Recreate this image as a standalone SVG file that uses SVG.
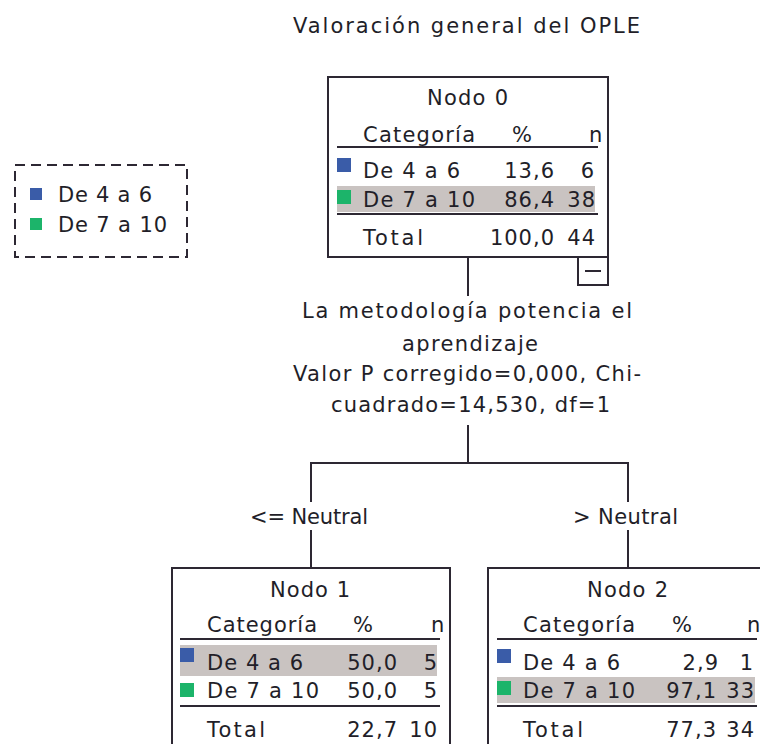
<svg xmlns="http://www.w3.org/2000/svg" width="760" height="744" viewBox="0 0 760 744">
  <style>
    text { font-family: "DejaVu Sans", "Liberation Sans", sans-serif; font-size: 21px; fill: #221e28; }
    .num { text-anchor: end; letter-spacing: 1px; }
    .box { fill: #ffffff; stroke: #2d2833; stroke-width: 2; }
    .rule { stroke: #2d2833; stroke-width: 2; }
    .conn line { stroke: #2d2833; stroke-width: 2; fill: none; }
    .hl { fill: #c9c3c1; }
    .c1 { fill: #3a5ca8; }
    .c2 { fill: #1cb46a; }
  </style>
  <rect width="760" height="744" fill="#ffffff"/>

  <!-- title -->
  <text x="293" y="33" textLength="347" lengthAdjust="spacing">Valoración general del OPLE</text>

  <!-- legend -->
  <g id="legend">
    <rect x="15" y="165" width="172" height="92" fill="none" stroke="#2d2833" stroke-width="2" stroke-dasharray="10 6"/>
    <rect class="c1" x="30" y="188" width="12" height="12"/>
    <text x="58" y="202" textLength="94" lengthAdjust="spacing">De 4 a 6</text>
    <rect class="c2" x="30" y="218" width="12" height="12"/>
    <text x="58" y="232" textLength="109" lengthAdjust="spacing">De 7 a 10</text>
  </g>

  <!-- connectors -->
  <g id="connectors" class="conn">
    <line x1="468" y1="257" x2="468" y2="296"/>
    <line x1="468" y1="425" x2="468" y2="463"/>
    <line x1="310" y1="463" x2="629" y2="463"/>
    <line x1="311" y1="463" x2="311" y2="502"/>
    <line x1="311" y1="530" x2="311" y2="568"/>
    <line x1="628" y1="463" x2="628" y2="502"/>
    <line x1="628" y1="530" x2="628" y2="568"/>
  </g>

  <!-- split description and branch labels -->
  <g id="split">
    <text x="302" y="318" textLength="330" lengthAdjust="spacing">La metodología potencia el</text>
    <text x="402" y="351" textLength="136" lengthAdjust="spacing">aprendizaje</text>
    <text x="293" y="381" textLength="348" lengthAdjust="spacing">Valor P corregido=0,000, Chi-</text>
    <text x="331" y="412" textLength="279" lengthAdjust="spacing">cuadrado=14,530, df=1</text>
    <text x="250" y="524" textLength="118" lengthAdjust="spacing">&lt;= Neutral</text>
    <text x="573" y="524" textLength="105" lengthAdjust="spacing">&gt; Neutral</text>
  </g>

  <!-- node 0 -->
  <g id="node0">
    <rect class="box" x="328" y="77" width="280" height="180"/>
    <text x="427" y="105" textLength="81" lengthAdjust="spacing">Nodo 0</text>
    <text x="363" y="142" textLength="112" lengthAdjust="spacing">Categoría</text>
    <text x="512" y="142">%</text>
    <text x="589" y="142">n</text>
    <line class="rule" x1="337" y1="147" x2="598" y2="147"/>
    <rect class="c1" x="337" y="158" width="14" height="14"/>
    <text x="363" y="178" textLength="97" lengthAdjust="spacing">De 4 a 6</text>
    <text class="num" x="555" y="178">13,6</text>
    <text class="num" x="595" y="178">6</text>
    <rect class="hl" x="337" y="186" width="258" height="26"/>
    <rect class="c2" x="337" y="190" width="14" height="14"/>
    <text x="363" y="207" textLength="112" lengthAdjust="spacing">De 7 a 10</text>
    <text class="num" x="555" y="207">86,4</text>
    <text class="num" x="596" y="207">38</text>
    <line class="rule" x1="337" y1="214" x2="598" y2="214"/>
    <text x="363" y="245" textLength="60" lengthAdjust="spacing">Total</text>
    <text class="num" x="555" y="245">100,0</text>
    <text class="num" x="596" y="245">44</text>
    <!-- collapse toggle -->
    <rect class="box" x="578" y="257" width="30" height="28"/>
    <line class="rule" x1="585" y1="271" x2="601" y2="271"/>
  </g>

  <!-- node 1 -->
  <g id="node1">
    <rect class="box" x="172" y="568" width="278" height="190"/>
    <text x="270" y="597" textLength="80" lengthAdjust="spacing">Nodo 1</text>
    <text x="207" y="632" textLength="110" lengthAdjust="spacing">Categoría</text>
    <text x="353" y="632">%</text>
    <text x="431" y="632">n</text>
    <line class="rule" x1="180" y1="639" x2="440" y2="639"/>
    <rect class="hl" x="180" y="645" width="257" height="31"/>
    <rect class="c1" x="180" y="648" width="14" height="14"/>
    <text x="207" y="670" textLength="96" lengthAdjust="spacing">De 4 a 6</text>
    <text class="num" x="398" y="670">50,0</text>
    <text class="num" x="438" y="670">5</text>
    <rect class="c2" x="180" y="683" width="14" height="14"/>
    <text x="207" y="698" textLength="112" lengthAdjust="spacing">De 7 a 10</text>
    <text class="num" x="398" y="698">50,0</text>
    <text class="num" x="438" y="698">5</text>
    <line class="rule" x1="180" y1="706" x2="440" y2="706"/>
    <text x="207" y="737" textLength="58" lengthAdjust="spacing">Total</text>
    <text class="num" x="398" y="737">22,7</text>
    <text class="num" x="438" y="737">10</text>
  </g>

  <!-- node 2 -->
  <g id="node2">
    <rect class="box" x="488" y="568" width="280" height="190"/>
    <text x="587" y="597" textLength="81" lengthAdjust="spacing">Nodo 2</text>
    <text x="523" y="632" textLength="112" lengthAdjust="spacing">Categoría</text>
    <text x="672" y="632">%</text>
    <text x="747" y="632">n</text>
    <line class="rule" x1="497" y1="639" x2="757" y2="639"/>
    <rect class="c1" x="497" y="649" width="14" height="14"/>
    <text x="523" y="670" textLength="97" lengthAdjust="spacing">De 4 a 6</text>
    <text class="num" x="719" y="670">2,9</text>
    <text class="num" x="754" y="670">1</text>
    <rect class="hl" x="497" y="677" width="258" height="26"/>
    <rect class="c2" x="497" y="681" width="14" height="14"/>
    <text x="523" y="698" textLength="112" lengthAdjust="spacing">De 7 a 10</text>
    <text class="num" x="717" y="698">97,1</text>
    <text class="num" x="755" y="698">33</text>
    <line class="rule" x1="497" y1="706" x2="757" y2="706"/>
    <text x="523" y="737" textLength="60" lengthAdjust="spacing">Total</text>
    <text class="num" x="717" y="737">77,3</text>
    <text class="num" x="755" y="737">34</text>
  </g>
</svg>
